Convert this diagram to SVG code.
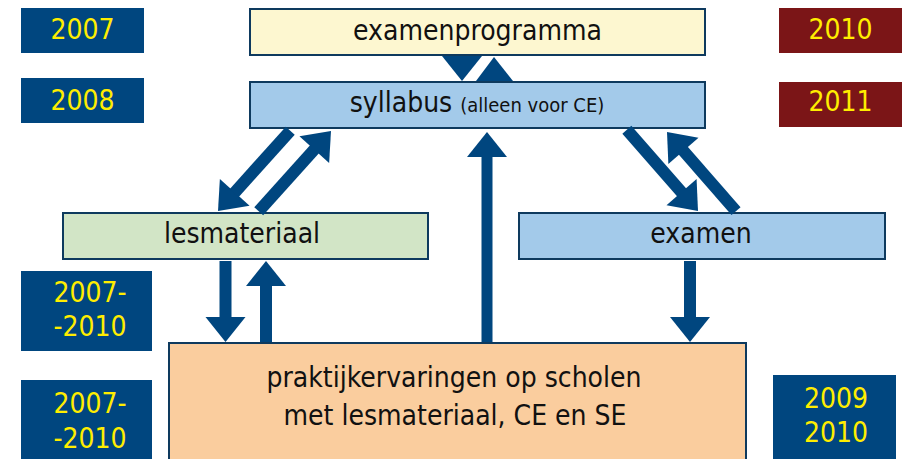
<svg xmlns="http://www.w3.org/2000/svg" width="910" height="459" viewBox="0 0 910 459">
<style>
text{font-family:"DejaVu Sans Condensed","DejaVu Sans",sans-serif;font-stretch:condensed;}
.yr{fill:#FFED00;font-size:28px;text-anchor:middle;}
.lbl{fill:#111111;font-size:28px;text-anchor:middle;}
.sm{font-size:20px;}
.navy{fill:#00467F;}
.red{fill:#7B1517;}
.box{stroke:#0E3A5E;stroke-width:2;}
.arr{fill:#00467F;}
</style>
<defs>
<polygon id="head" points="0,0 -25,-20 -25,20"/>
</defs>
<g id="y2007"><rect class="navy" x="21" y="8" width="123" height="45"/><text class="yr" x="82.5" y="39">2007</text></g>
<g id="y2008"><rect class="navy" x="21" y="78" width="123" height="45"/><text class="yr" x="82.5" y="110">2008</text></g>
<g id="y2010"><rect class="red" x="779" y="8" width="123" height="45"/><text class="yr" x="840.5" y="39">2010</text></g>
<g id="y2011"><rect class="red" x="779" y="82" width="123" height="45"/><text class="yr" x="840.5" y="111">2011</text></g>
<g id="y2007-2010a"><rect class="navy" x="21" y="271" width="131" height="80"/><text class="yr" x="90" y="302">2007-</text><text class="yr" x="90" y="336">-2010</text></g>
<g id="y2007-2010b"><rect class="navy" x="21" y="380" width="131" height="85"/><text class="yr" x="90" y="413">2007-</text><text class="yr" x="90" y="448">-2010</text></g>
<g id="y2009-2010"><rect class="navy" x="773" y="375" width="123" height="90"/><text class="yr" x="836" y="408">2009</text><text class="yr" x="836" y="442">2010</text></g>

<g id="examenprogramma"><rect class="box" x="250" y="9" width="455" height="46" fill="#FDF7D0"/><text class="lbl" x="477.5" y="40">examenprogramma</text></g>
<g id="syllabus"><rect class="box" x="250" y="82" width="455" height="46" fill="#A3CAEA"/><text class="lbl" x="477" y="112">syllabus <tspan class="sm">(alleen voor CE)</tspan></text></g>
<g id="lesmateriaal"><rect class="box" x="63" y="213" width="365" height="46" fill="#D2E5C6"/><text class="lbl" x="242" y="243">lesmateriaal</text></g>
<g id="examen"><rect class="box" x="519" y="213" width="366" height="46" fill="#A3CAEA"/><text class="lbl" x="701" y="243">examen</text></g>
<g id="praktijk"><rect class="box" x="169" y="343" width="577" height="130" fill="#FACD9E"/><text class="lbl" x="454" y="387">praktijkervaringen op scholen</text><text class="lbl" x="455" y="425">met lesmateriaal, CE en SE</text></g>

<g id="connectors" class="arr">
<polygon points="442,56 482,56 462,81"/>
<polygon points="476,81 513,81 494,57"/>
<g transform="translate(218,211) rotate(132)"><use href="#head"/><rect x="-108" y="-6" width="84" height="12"/></g>
<g transform="translate(331,131) rotate(-48)"><use href="#head"/><rect x="-108" y="-6" width="84" height="12"/></g>
<g transform="translate(698,211) rotate(48.8)"><use href="#head"/><rect x="-108" y="-6" width="84" height="12"/></g>
<g transform="translate(667,132) rotate(-131.1)"><use href="#head"/><rect x="-105" y="-6" width="81" height="12"/></g>
<g transform="translate(487,132) rotate(-90)"><use href="#head"/><rect x="-210" y="-5.5" width="186" height="11"/></g>
<g transform="translate(225.5,342) rotate(90)"><use href="#head"/><rect x="-81" y="-6" width="57" height="12"/></g>
<g transform="translate(266,261) rotate(-90)"><use href="#head"/><rect x="-81" y="-6" width="57" height="12"/></g>
<g transform="translate(690,342) rotate(90)"><use href="#head"/><rect x="-81" y="-6" width="57" height="12"/></g>
</g>
</svg>
